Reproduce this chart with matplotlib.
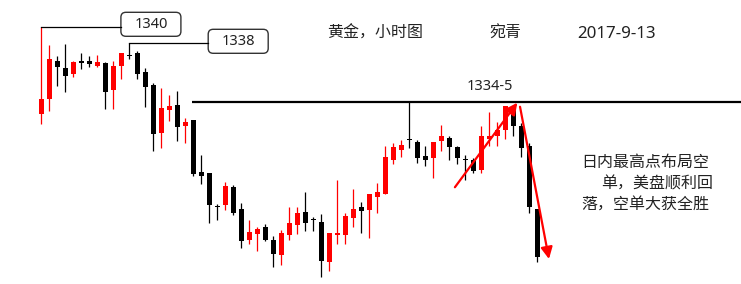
import matplotlib
matplotlib.use('Agg')
import matplotlib.pyplot as plt
from matplotlib.patches import FancyBboxPatch

plt.rcParams['font.family'] = ['Noto Sans', 'Noto Sans CJK SC', 'DejaVu Sans']

# 黄金 1小时K线
opens = [1333.04, 1334.24, 1337.28, 1336.72, 1336.24, 1337.28, 1337.28, 1336.88, 1337.12, 1334.96,
         1336.88, 1337.76, 1337.92, 1336.40, 1335.36, 1331.52, 1333.36, 1333.76, 1332.08, 1332.56,
         1328.40, 1328.32, 1325.68, 1325.76, 1327.20, 1325.44, 1322.96, 1323.44, 1324.00, 1322.96,
         1321.76, 1323.36, 1324.16, 1325.20, 1324.64, 1324.40, 1321.20, 1323.36, 1323.36, 1324.72,
         1325.60, 1325.36, 1326.40, 1326.64, 1329.36, 1330.16, 1331.04, 1330.80, 1329.68, 1329.52,
         1330.88, 1331.12, 1330.40, 1329.44, 1329.36, 1328.56, 1331.04, 1331.28, 1331.76, 1333.36,
         1332.08, 1330.48, 1325.44]
highs = [1340.00, 1338.56, 1337.68, 1338.64, 1337.28, 1337.92, 1337.68, 1337.76, 1337.20, 1337.28,
         1337.92, 1338.72, 1338.08, 1336.72, 1335.52, 1335.12, 1334.56, 1334.88, 1332.72, 1332.56,
         1329.76, 1328.32, 1325.84, 1327.60, 1327.36, 1325.92, 1324.56, 1324.00, 1324.24, 1323.28,
         1323.76, 1325.60, 1325.60, 1326.80, 1324.80, 1325.04, 1323.52, 1327.76, 1325.12, 1327.04,
         1326.00, 1326.64, 1327.52, 1330.48, 1330.72, 1330.96, 1334.00, 1330.96, 1330.48, 1330.80,
         1332.16, 1331.28, 1330.48, 1329.76, 1329.52, 1332.08, 1333.20, 1332.40, 1333.68, 1333.76,
         1332.32, 1330.72, 1325.44]
lows = [1332.24, 1333.28, 1335.28, 1334.80, 1336.00, 1336.64, 1336.80, 1336.80, 1333.44, 1333.44,
        1335.84, 1337.44, 1335.84, 1333.60, 1330.08, 1330.32, 1332.48, 1330.88, 1330.72, 1328.08,
        1327.44, 1324.32, 1324.56, 1325.36, 1324.96, 1322.32, 1322.64, 1322.08, 1322.88, 1320.80,
        1320.96, 1322.96, 1323.44, 1323.68, 1323.68, 1320.00, 1320.48, 1322.64, 1322.64, 1324.00,
        1323.52, 1323.12, 1325.12, 1326.64, 1329.04, 1329.60, 1330.32, 1329.12, 1328.88, 1327.92,
        1330.08, 1329.36, 1329.04, 1327.76, 1328.32, 1328.32, 1330.48, 1330.48, 1331.04, 1331.28,
        1329.60, 1325.12, 1321.20]
closes = [1334.24, 1337.44, 1336.80, 1336.08, 1337.20, 1337.12, 1337.04, 1337.20, 1334.80, 1336.88,
          1337.92, 1337.68, 1336.24, 1335.20, 1331.44, 1333.52, 1333.68, 1332.00, 1332.40, 1328.24,
          1328.08, 1325.76, 1325.60, 1327.28, 1325.12, 1322.88, 1323.60, 1323.84, 1322.96, 1321.84,
          1323.52, 1324.32, 1325.12, 1324.32, 1324.56, 1321.28, 1323.52, 1323.52, 1324.88, 1325.44,
          1325.28, 1326.64, 1326.80, 1329.60, 1330.40, 1330.56, 1330.96, 1329.52, 1329.36, 1330.80,
          1331.28, 1330.40, 1329.52, 1329.36, 1328.48, 1331.28, 1331.28, 1331.76, 1333.68, 1332.08,
          1330.32, 1325.60, 1321.60]

resist = 1334.0
resist_label = '1334-5'
peak_idx = [0, 11]
peak_labels = ['1340', '1338']
title = '黄金，小时图'
author = '宛青'
date = '2017-9-13'
comment = ['日内最高点布局空', '单，美盘顺利回', '落，空单大获全胜']
up_arrow = [(51.7, 1327.18), (59.5, 1333.94)]
down_arrow = [(59.84, 1333.62), (63.46, 1321.44)]

W, H = 741, 284
fig = plt.figure(figsize=(W / 100, H / 100), dpi=100)
ax = fig.add_axes([0, 0, 1, 1])
ax.set_xlim(-5.1625, 87.4625)
ax.set_ylim(1319.44, 1342.16)
ax.axis('off')

x = list(range(len(opens)))
cols = ['#ff0000' if c > o else '#000000' for o, c in zip(opens, closes)]
bottoms = [min(o, c) for o, c in zip(opens, closes)]
heights = [max(abs(c - o), 0.09) for o, c in zip(opens, closes)]
ax.vlines(x, lows, highs, colors=cols, lw=0.9)
ax.bar(x, heights, 0.62, bottom=bottoms, color=cols, linewidth=0)

# 压力线
ax.hlines(resist, 18.85, 90, colors='black', lw=1.6)

# 箭头
for a in (up_arrow, down_arrow):
    ax.annotate('', xy=a[1], xytext=a[0],
                arrowprops=dict(arrowstyle='-|>,head_length=0.7,head_width=0.35',
                                color='#ff0000', lw=1.6, mutation_scale=10,
                                shrinkA=0, shrinkB=0))

# 像素坐标的标注层
ov = fig.add_axes([0, 0, 1, 1])
ov.set_xlim(0, W)
ov.set_ylim(H, 0)
ov.axis('off')
ov.patch.set_alpha(0)

box_pos = [(150.9, 24.3), (238.2, 41.3)]
for i, lab, (bx, by) in zip(peak_idx, peak_labels, box_pos):
    px, py = ov.transData.inverted().transform(ax.transData.transform((i, highs[i])))
    ov.plot([px, bx - 30], [py, py], color='black', lw=0.9)
    ov.add_patch(FancyBboxPatch((bx - 30, by - 12), 60, 24,
                                boxstyle='round,pad=0,rounding_size=5',
                                fc='white', ec='#333333', lw=1.0))
    ov.text(bx, by, lab, ha='center', va='center', fontsize=10.5, color='#222222')

ov.text(490.3, 86.3, resist_label, ha='center', va='center', fontsize=10.5, color='#222222')

ov.text(327.5, 34, title, ha='left', va='center', fontsize=11.5, color='#222222')
ov.text(489, 34, author, ha='left', va='center', fontsize=11.5, color='#222222')
ov.text(577.5, 34, date, ha='left', va='center', fontsize=12.2, color='#222222')

for txt, cx, cy in zip(comment, [645, 657, 645], [163.3, 184, 205.7]):
    ov.text(cx, cy, txt, ha='center', va='center', fontsize=11.5, color='#222222')

fig.savefig('out.png', dpi=100)
